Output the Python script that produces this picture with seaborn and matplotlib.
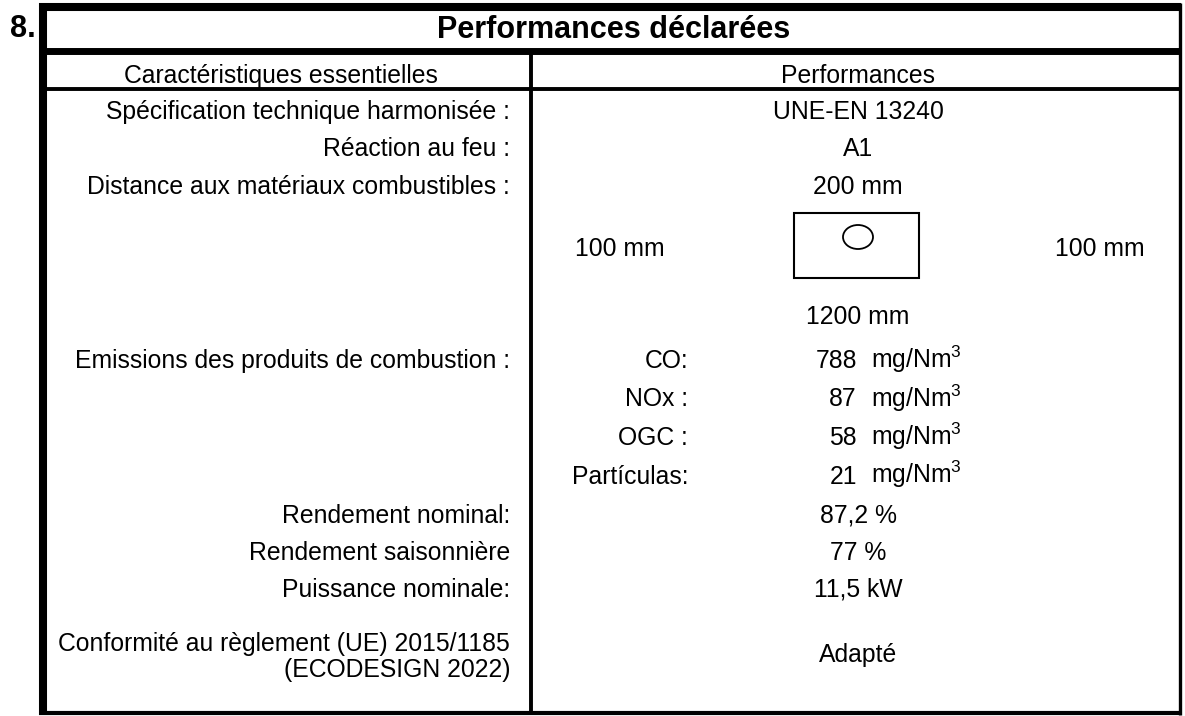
import matplotlib
matplotlib.use("Agg")
import matplotlib.pyplot as plt
from matplotlib.patches import Rectangle, Ellipse
import seaborn as sns

# Declared performances table (section 8)
section = "8."
title = "Performances déclarées"
headers = ["Caractéristiques essentielles", "Performances"]

simple_labels = ["Spécification technique harmonisée :", "Réaction au feu :",
                 "Distance aux matériaux combustibles :"]
simple_values = ["UNE-EN 13240", "A1", "200 mm"]

side_distance = "100 mm"
front_distance = "1200 mm"

emission_label = "Emissions des produits de combustion :"
gases = ["CO:", "NOx :", "OGC :", "Partículas:"]
gas_values = [788, 87, 58, 21]
gas_unit = "mg/Nm$^3$"

perf_labels = ["Rendement nominal:", "Rendement saisonnière", "Puissance nominale:"]
perf_values = ["87,2 %", "77 %", "11,5 kW"]

eco_label = ["Conformité au règlement (UE) 2015/1185", "(ECODESIGN 2022)"]
eco_value = "Adapté"

sns.set_theme(style="white")
plt.rcParams["font.family"] = ["Liberation Sans", "DejaVu Sans"]
plt.rcParams["text.color"] = "black"
plt.rcParams["mathtext.fontset"] = "custom"
plt.rcParams["mathtext.rm"] = "Liberation Sans"
plt.rcParams["mathtext.it"] = "Liberation Sans"

W, H = 1185, 716
fig = plt.figure(figsize=(W / 100, H / 100), dpi=100)
ax = fig.add_axes([0, 0, 1, 1])
ax.set_xlim(0, W)
ax.set_ylim(H, 0)
ax.axis("off")

fs = 17.8
k = "black"
lab_x = 510
mid = 858

# borders
ax.plot([39, 1181], [7, 7], color=k, lw=5.8, solid_capstyle="butt")
ax.plot([43, 43], [3, 715], color=k, lw=5.8, solid_capstyle="butt")
ax.plot([1179.5, 1179.5], [3, 715], color=k, lw=2.4, solid_capstyle="butt")
ax.plot([39, 1181], [50.5, 50.5], color=k, lw=5.0, solid_capstyle="butt")
ax.plot([39, 1181], [89, 89], color=k, lw=2.8, solid_capstyle="butt")
ax.plot([39, 1181], [713, 713], color=k, lw=3.0, solid_capstyle="butt")
ax.plot([531, 531], [53, 713], color=k, lw=2.8, solid_capstyle="butt")

ax.text(36, 37, section, ha="right", va="baseline", fontsize=22, fontweight="bold")
ax.text(614, 38, title, ha="center", va="baseline", fontsize=22, fontweight="bold")
ax.text(281, 83, headers[0], ha="center", va="baseline", fontsize=fs)
ax.text(mid, 83, headers[1], ha="center", va="baseline", fontsize=fs)

for i, (lab, val) in enumerate(zip(simple_labels, simple_values)):
    y = 119 + i * 37.5
    ax.text(lab_x, y, lab, ha="right", va="baseline", fontsize=fs)
    ax.text(mid, y, val, ha="center", va="baseline", fontsize=fs)

# clearance drawing
ax.add_patch(Rectangle((794, 213), 125, 65, fill=False, ec=k, lw=1.5))
ax.add_patch(Ellipse((858, 237), 30, 24, fill=False, ec=k, lw=1.3))
ax.text(620, 256, side_distance, ha="center", va="baseline", fontsize=fs)
ax.text(1100, 256, side_distance, ha="center", va="baseline", fontsize=fs)
ax.text(mid, 324, front_distance, ha="center", va="baseline", fontsize=fs)

ax.text(lab_x, 368, emission_label, ha="right", va="baseline", fontsize=fs)
for i, (g, v) in enumerate(zip(gases, gas_values)):
    y = 368 + i * 38.5
    ax.text(688, y, g, ha="right", va="baseline", fontsize=fs)
    ax.text(857, y, str(v), ha="right", va="baseline", fontsize=fs)
    ax.text(871, y, gas_unit, ha="left", va="baseline", fontsize=fs)

for i, (lab, val) in enumerate(zip(perf_labels, perf_values)):
    y = 523 + i * 37
    ax.text(lab_x, y, lab, ha="right", va="baseline", fontsize=fs)
    ax.text(mid, y, val, ha="center", va="baseline", fontsize=fs)

ax.text(lab_x, 651, eco_label[0], ha="right", va="baseline", fontsize=fs)
ax.text(lab_x, 677, eco_label[1], ha="right", va="baseline", fontsize=fs)
ax.text(mid, 662, eco_value, ha="center", va="baseline", fontsize=fs)

fig.savefig("out.png", dpi=100, facecolor="white")
